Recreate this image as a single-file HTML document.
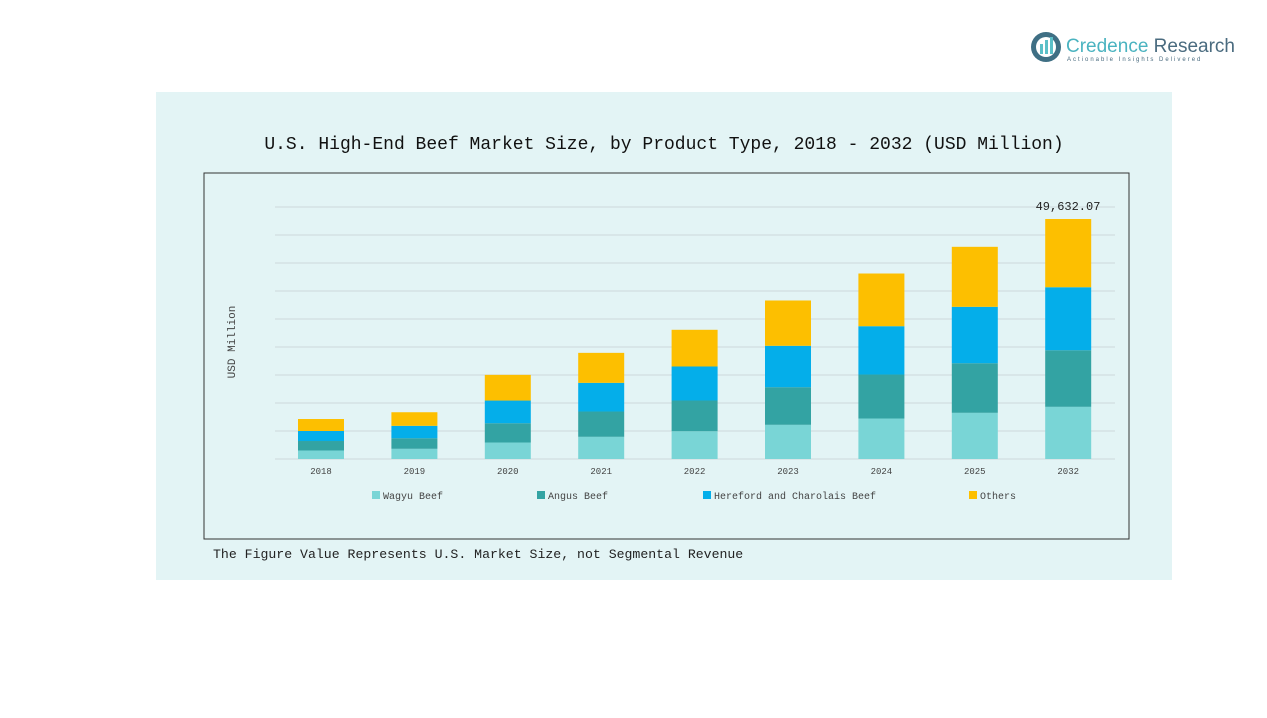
<!DOCTYPE html>
<html><head><meta charset="utf-8">
<style>
body{margin:0;width:1267px;height:713px;background:#fff;overflow:hidden;font-family:"Liberation Mono","Noto Serif CJK SC",monospace;}
</style></head>
<body>
<svg width="1267" height="713" xmlns="http://www.w3.org/2000/svg">
  <g>
    <circle cx="1046" cy="47" r="15" fill="#3f6f84"/>
    <circle cx="1046" cy="47" r="10" fill="#fff"/>
    <rect x="1040" y="44" width="3" height="10" fill="#5bc0c8"/>
    <rect x="1045" y="40" width="3" height="14" fill="#5bc0c8"/>
    <rect x="1050" y="37" width="3" height="17" fill="#5bc0c8"/>
    <text x="1066" y="52" font-family="Liberation Sans, sans-serif" font-size="19" fill="#4ab3c0">Credence <tspan fill="#4a6b7f">Research</tspan></text>
    <text x="1067" y="61" font-family="Liberation Sans, sans-serif" font-size="6" fill="#4a6b7f" letter-spacing="2">Actionable Insights Delivered</text>
  </g>
  <rect x="156" y="92" width="1016" height="488" fill="#e3f4f5"/>
  <text x="664" y="149" text-anchor="middle" font-size="18" fill="#111" font-family="Liberation Mono, monospace">U.S. High-End Beef Market Size, by Product Type, 2018 - 2032 (USD Million)</text>
  <rect x="204" y="173" width="925" height="366" fill="none" stroke="#333" stroke-width="1"/>
  <text transform="translate(235,342) rotate(-90)" text-anchor="middle" font-size="11" fill="#444">USD Million</text>
  <g id="grid"></g>
  <g id="bars"></g>
  <g id="xlabels"></g>
  <g id="legend"></g>
  <text x="1068" y="210" text-anchor="middle" font-size="12" fill="#222">49,632.07</text>
  <text x="213" y="558" font-size="13.2" fill="#222">The Figure Value Represents U.S. Market Size, not Segmental Revenue</text>
</svg>
<script>
const categories=["2018","2019","2020","2021","2022","2023","2024","2025","2032"];
const wagyu=[1760,2110,3410,4590,5750,7070,8370,9550,10790];
const angus=[1960,2190,3990,5230,6350,7780,9100,10260,11700];
const hereford=[2070,2560,4690,5930,7030,8560,9990,11660,13030];
const others=[2480,2810,5310,6200,7590,9370,10900,12410,14112];
const seriesNames=["Wagyu Beef","Angus Beef","Hereford and Charolais Beef","Others"];
const seriesColors=["#79d5d6","#33a3a3","#04aeea","#fdbf00"];
const yMax=52114, gridStep=5790.4;
const NS="http://www.w3.org/2000/svg";
const y0=459, yTop=207, xFirst=321, xStep=93.4, barW=46;
function yScale(v){return y0-(v/yMax)*(y0-yTop);}
function xScale(i){return xFirst+i*xStep;}
function mk(tag,attrs,parent){const e=document.createElementNS(NS,tag);for(const k in attrs)e.setAttribute(k,attrs[k]);parent.appendChild(e);return e;}
const grid=document.getElementById('grid');
for(let k=0;k<=9;k++){
  const yy=yScale(k*gridStep);
  const l=mk('line',{x1:275,x2:1115,y1:yy,y2:yy,stroke:'#cdd9db','stroke-width':1},grid);
  
  
}
const bars=document.getElementById('bars');
const series=[wagyu,angus,hereford,others];
categories.forEach((c,i)=>{
  let acc=0;
  series.forEach((s,j)=>{
    const yb=yScale(acc), yt=yScale(acc+s[i]);
    const r=mk('rect',{x:xScale(i)-barW/2,y:yt,width:barW,height:yb-yt,fill:seriesColors[j]},bars);
    
    
    acc+=s[i];
  });
  const t=mk('text',{x:xScale(i),y:474,'text-anchor':'middle','font-size':9,fill:'#444'},document.getElementById('xlabels'));
  t.textContent=c;
  
  
});
const legX=[372,537,703,969];
const leg=document.getElementById('legend');
seriesNames.forEach((n,j)=>{
  const g=mk('g',{},leg);
  
  
  mk('rect',{x:legX[j],y:491,width:8,height:8,fill:seriesColors[j]},g);
  const t=mk('text',{x:legX[j]+11,y:499,'font-size':10,fill:'#444'},g);
  t.textContent=n;
});
</script>
</body></html>
